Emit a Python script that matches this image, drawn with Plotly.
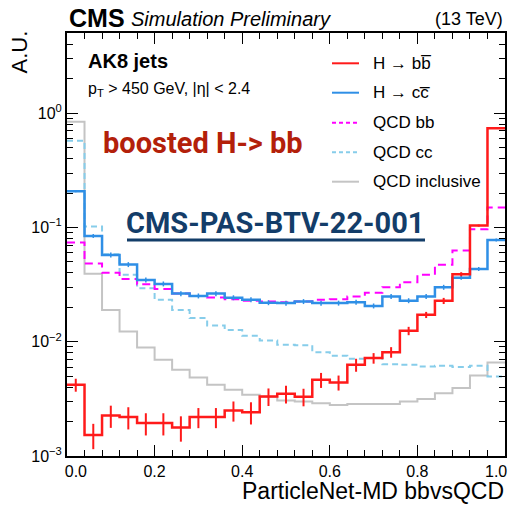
import numpy as np
import plotly.graph_objects as go

# ---------------- data ----------------
bin_edges = np.linspace(0.0, 1.0, 26)

h_bb = [0.0042, 0.00153, 0.00226, 0.00219, 0.00194, 0.00194, 0.00178, 0.00219, 0.00219, 0.0025,
        0.00242, 0.00332, 0.0035, 0.0033, 0.00464, 0.0044, 0.00628, 0.00719, 0.00811, 0.01246,
        0.01719, 0.0228, 0.039, 0.1039, 0.739]
h_bb_relerr = [0.13, 0.25, 0.22, 0.22, 0.22, 0.22, 0.25, 0.2, 0.2, 0.2,
               0.22, 0.175, 0.175, 0.175, 0.15, 0.15, 0.13, 0.106, 0.106, 0.084,
               0.062, 0.062, 0.041, 0.02, 0.01]

h_cc = [0.2077, 0.0844, 0.0576, 0.0474, 0.0348, 0.0321, 0.0264, 0.0252, 0.0264, 0.0243,
        0.0233, 0.0220, 0.0218, 0.0225, 0.0218, 0.0218, 0.0222, 0.0206, 0.0249, 0.0229,
        0.0249, 0.030, 0.0364, 0.0434, 0.0779]
h_cc_relerr = [0.02, 0.04, 0.05, 0.05, 0.05, 0.05, 0.05, 0.05, 0.05, 0.05,
               0.05, 0.05, 0.05, 0.05, 0.05, 0.05, 0.05, 0.05, 0.05, 0.05,
               0.05, 0.05, 0.04, 0.04, 0.03]

qcd_bb = [0.074, 0.0483, 0.0401, 0.0355, 0.0319, 0.0289, 0.0264, 0.0252, 0.0244, 0.0236,
          0.0229, 0.0225, 0.0222, 0.0225, 0.0233, 0.0236, 0.0249, 0.0269, 0.030, 0.0332,
          0.0385, 0.0471, 0.0628, 0.0966, 0.1493]

qcd_cc = [0.576, 0.1018, 0.0584, 0.0385, 0.0294, 0.0233, 0.0190, 0.0161, 0.01386, 0.0127,
          0.01126, 0.01024, 0.0094, 0.0093, 0.0081, 0.00753, 0.0071, 0.0072, 0.00637, 0.00628,
          0.00607, 0.00615, 0.0060, 0.00615, 0.00496]

qcd_incl = [0.844, 0.0393, 0.0190, 0.01228, 0.0089, 0.00695, 0.00568, 0.00486, 0.0042, 0.0038,
            0.00343, 0.0033, 0.00306, 0.0030, 0.0029, 0.0028, 0.00285, 0.00285, 0.00285, 0.0030,
            0.00315, 0.00355, 0.00393, 0.00506, 0.00658]

legend_labels = ["H \u2192 bb\u0305", "H \u2192 cc\u0305", "QCD bb", "QCD cc", "QCD inclusive"]

NB = "\u00a0"
x_tickvals = [0.0, 0.2, 0.4, 0.6, 0.8, 1.0]
# end labels pulled inside the frame, as in the reference
x_ticktext = [NB * 4 + "0.0", "0.2", "0.4", "0.6", "0.8", "1.0" + NB * 4]
y_decades = [-3, -2, -1, 0]

# ---------------- styles ----------------
C_RED = "#ff1a1a"
C_BLUE = "#2f8fe6"
C_MAG = "#ff00ff"
C_CYAN = "#87cdea"
C_GRAY = "#c4c4c4"
FONT = "Liberation Sans"

W, H = 516, 509
L, R, T, B = 67, 11, 33, 53
PW, PH = W - L - R, H - T - B


def px(x):
    return (x - L) / PW


def py(y):
    return (H - B - y) / PH


centers = 0.5 * (bin_edges[:-1] + bin_edges[1:])


def step_trace(vals, color, width, dash="solid"):
    return go.Scatter(
        x=list(bin_edges), y=list(vals) + [vals[-1]],
        mode="lines", line=dict(color=color, width=width, dash=dash, shape="hv"),
        showlegend=False, hoverinfo="skip")


def err_trace(vals, rel, color, width):
    errs = [v * r for v, r in zip(vals, rel)]
    return go.Scatter(
        x=list(centers), y=list(vals), mode="markers",
        marker=dict(size=0.1, color=color),
        error_y=dict(type="data", array=errs, visible=True, color=color,
                     thickness=width, width=0),
        showlegend=False, hoverinfo="skip")


fig = go.Figure()
fig.add_trace(step_trace(qcd_incl, C_GRAY, 2))
fig.add_trace(step_trace(qcd_cc, C_CYAN, 2, "6px,4px"))
fig.add_trace(step_trace(qcd_bb, C_MAG, 2, "8px,5px"))
fig.add_trace(step_trace(h_cc, C_BLUE, 2.5))
fig.add_trace(err_trace(h_cc, h_cc_relerr, C_BLUE, 1.5))
fig.add_trace(step_trace(h_bb, C_RED, 2.5))
fig.add_trace(err_trace(h_bb, h_bb_relerr, C_RED, 2))

# y ticks
y_tickvals = [10.0 ** d for d in y_decades]
y_ticktext = ["10<sup>\u2212%d</sup>" % (-d) if d < 0 else "10<sup>0</sup>" for d in y_decades]
y_minor = [m * 10.0 ** d for d in y_decades for m in range(2, 10)]

fig.update_xaxes(
    range=[0, 1], tickvals=x_tickvals, ticktext=x_ticktext,
    ticks="inside", ticklen=11, tickwidth=1.2, tickcolor="black",
    minor=dict(ticks="inside", ticklen=6, dtick=0.04, tick0=0, tickcolor="black", tickwidth=1.2),
    showline=True, linewidth=2, linecolor="black", mirror="allticks",
    showgrid=False, zeroline=False, automargin=False, ticklabeloverflow="allow",
    tickfont=dict(family=FONT, size=16, color="black"),
)
fig.update_yaxes(
    type="log", range=[-3, 0.7025],
    tickvals=y_tickvals, ticktext=y_ticktext,
    ticks="inside", ticklen=11, tickwidth=1.2, tickcolor="black",
    minor=dict(ticks="inside", ticklen=6, tickvals=y_minor, tickcolor="black", tickwidth=1.2),
    showline=True, linewidth=2, linecolor="black", mirror="allticks",
    showgrid=False, zeroline=False, automargin=False, ticklabeloverflow="allow",
    tickfont=dict(family=FONT, size=16, color="black"),
)

ann = []
shapes = []

# header
ann.append(dict(x=px(67), y=py(18), xref="paper", yref="paper", xanchor="left", yanchor="middle",
                text="<b>CMS</b>", showarrow=False, font=dict(family=FONT, size=25, color="black")))
ann.append(dict(x=px(129), y=py(19), xref="paper", yref="paper", xanchor="left", yanchor="middle",
                text="<i>Simulation Preliminary</i>", showarrow=False,
                font=dict(family=FONT, size=20, color="black")))
ann.append(dict(x=px(505), y=py(19), xref="paper", yref="paper", xanchor="right", yanchor="middle",
                text="(13 TeV)", showarrow=False, font=dict(family=FONT, size=18, color="black")))

# axis titles
ann.append(dict(x=px(506), y=py(491), xref="paper", yref="paper", xanchor="right", yanchor="middle",
                text="ParticleNet-MD bbvsQCD", showarrow=False,
                font=dict(family=FONT, size=23, color="black")))
ann.append(dict(x=px(19), y=py(29), xref="paper", yref="paper", xanchor="center", yanchor="top",
                text="A.U.", textangle=-90, showarrow=False,
                font=dict(family=FONT, size=22, color="black")))

# labels inside
ann.append(dict(x=px(86), y=py(61), xref="paper", yref="paper", xanchor="left", yanchor="middle",
                text="<b>AK8 jets</b>", showarrow=False, font=dict(family=FONT, size=20, color="black")))
ann.append(dict(x=px(86), y=py(90), xref="paper", yref="paper", xanchor="left", yanchor="middle",
                text="p<sub>T</sub> > 450 GeV, |\u03b7| < 2.4", showarrow=False,
                font=dict(family=FONT, size=16, color="black")))
ann.append(dict(x=px(101), y=py(143), xref="paper", yref="paper", xanchor="left", yanchor="middle",
                text="<b>boosted H-> bb</b>", showarrow=False,
                font=dict(family="Roboto", size=29, color="#b3200a")))
ann.append(dict(x=px(124), y=py(223), xref="paper", yref="paper", xanchor="left", yanchor="middle",
                text="<b>CMS-PAS-BTV-22-001</b>", showarrow=False,
                font=dict(family="Roboto", size=29, color="#133d69")))
shapes.append(dict(type="line", xref="paper", yref="paper", x0=px(127), x1=px(425),
                   y0=py(240), y1=py(240), line=dict(color="#133d69", width=3)))

# legend (manual)
leg_rows = [63.3, 92.7, 122.7, 152.3, 181.7]
leg_styles = [(C_RED, 2, "solid"), (C_BLUE, 2, "solid"), (C_MAG, 2, "4px,3px"),
              (C_CYAN, 2, "4px,3px"), (C_GRAY, 2, "solid")]
for yrow, lab, (col, wd, ds) in zip(leg_rows, legend_labels, leg_styles):
    shapes.append(dict(type="line", xref="paper", yref="paper", x0=px(332), x1=px(359),
                       y0=py(yrow), y1=py(yrow), line=dict(color=col, width=wd, dash=ds)))
    ann.append(dict(x=px(371), y=py(yrow), xref="paper", yref="paper", xanchor="left",
                    yanchor="middle", text=lab, showarrow=False,
                    font=dict(family=FONT, size=17, color="black")))

fig.update_layout(
    width=W, height=H, margin=dict(l=L, r=R, t=T, b=B),
    paper_bgcolor="white", plot_bgcolor="white",
    annotations=ann, shapes=shapes, showlegend=False,
)

fig.write_html("out.html")
